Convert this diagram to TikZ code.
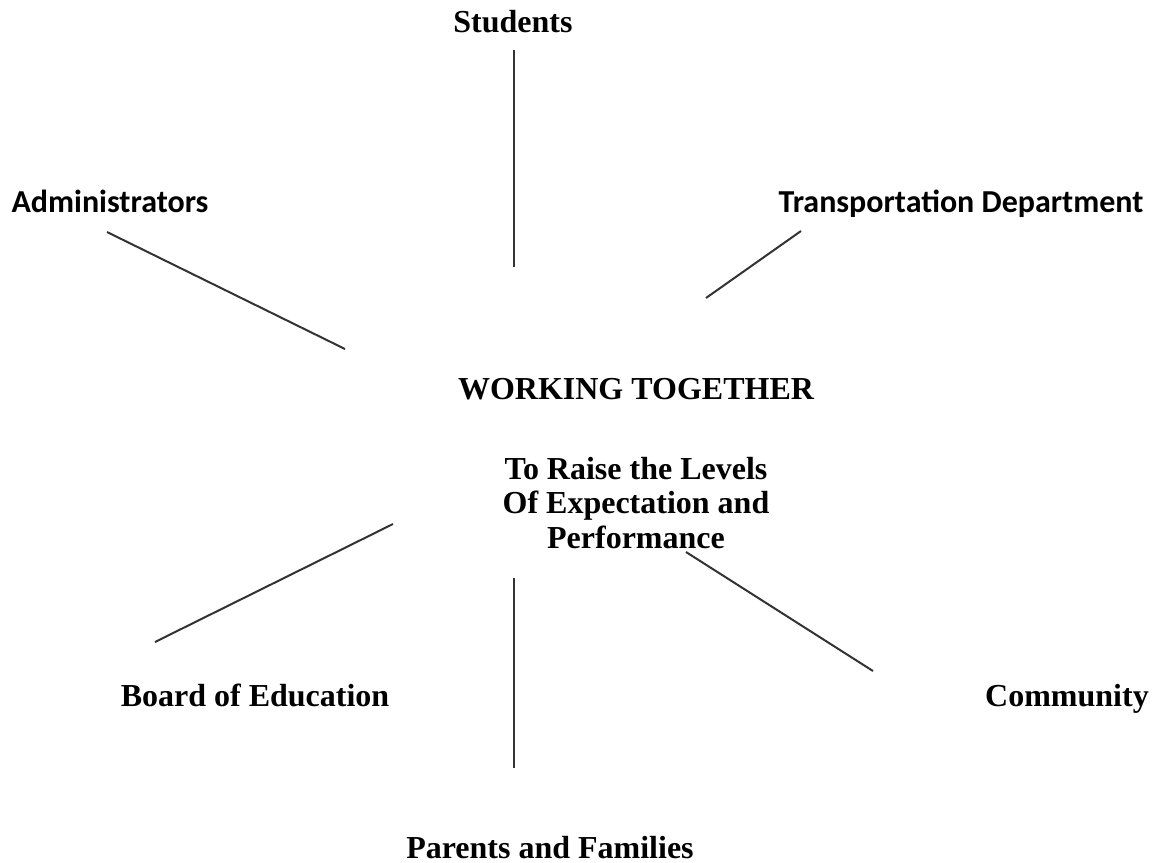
\documentclass[tikz,border=0pt]{standalone}
\usepackage{fontspec}
\setmainfont{Liberation Serif}
\newfontfamily\calibri{Carlito}
\usepackage{tikz}
\usetikzlibrary{positioning}

\tikzset{
  label/.style={inner sep=0pt, font=\fontsize{16}{17.3}\selectfont\bfseries},
  sanslabel/.style={label, font=\fontsize{16}{17.3}\selectfont\calibri\bfseries},
  spoke/.style={draw=black!80, line width=1pt}
}

\begin{document}
\begin{tikzpicture}[x=0.5pt, y=-0.5pt]
    \useasboundingbox (0,0) rectangle (1153,863);

    % Groups round the centre
    \node[label, anchor=base] (students) at (513,32) {Students};
    \node[sanslabel, anchor=base] (admin) at (110,212) {Administrators};
    \node[sanslabel, anchor=base] (transport) at (961,212) {Transportation Department};
    \node[label, anchor=base] (board) at (255,706) {Board of Education};
    \node[label, anchor=base] (community) at (1067,706) {Community};
    \node[label, anchor=base] (parents) at (550,858) {Parents and Families};

    % Centre text
    \node[label, anchor=base] (title) at (636,399) {WORKING TOGETHER};
    \node[label, align=center] (goal) at (636,503) {To Raise the Levels\\Of Expectation and\\Performance};

    % Spoke ends
    \coordinate (stu-a) at (514,50);   \coordinate (stu-b) at (514,267);
    \coordinate (adm-a) at (107,232);  \coordinate (adm-b) at (345,349);
    \coordinate (tra-a) at (801,231);  \coordinate (tra-b) at (706,298);
    \coordinate (boa-a) at (155,642);  \coordinate (boa-b) at (393,524);
    \coordinate (par-a) at (514,578);  \coordinate (par-b) at (514,768);
    \coordinate (com-a) at (686,552);  \coordinate (com-b) at (873,671);

    % Spokes
    \draw[spoke] (stu-a) -- (stu-b);
    \draw[spoke] (adm-a) -- (adm-b);
    \draw[spoke] (tra-a) -- (tra-b);
    \draw[spoke] (boa-a) -- (boa-b);
    \draw[spoke] (par-a) -- (par-b);
    \draw[spoke] (com-a) -- (com-b);
\end{tikzpicture}
\end{document}
